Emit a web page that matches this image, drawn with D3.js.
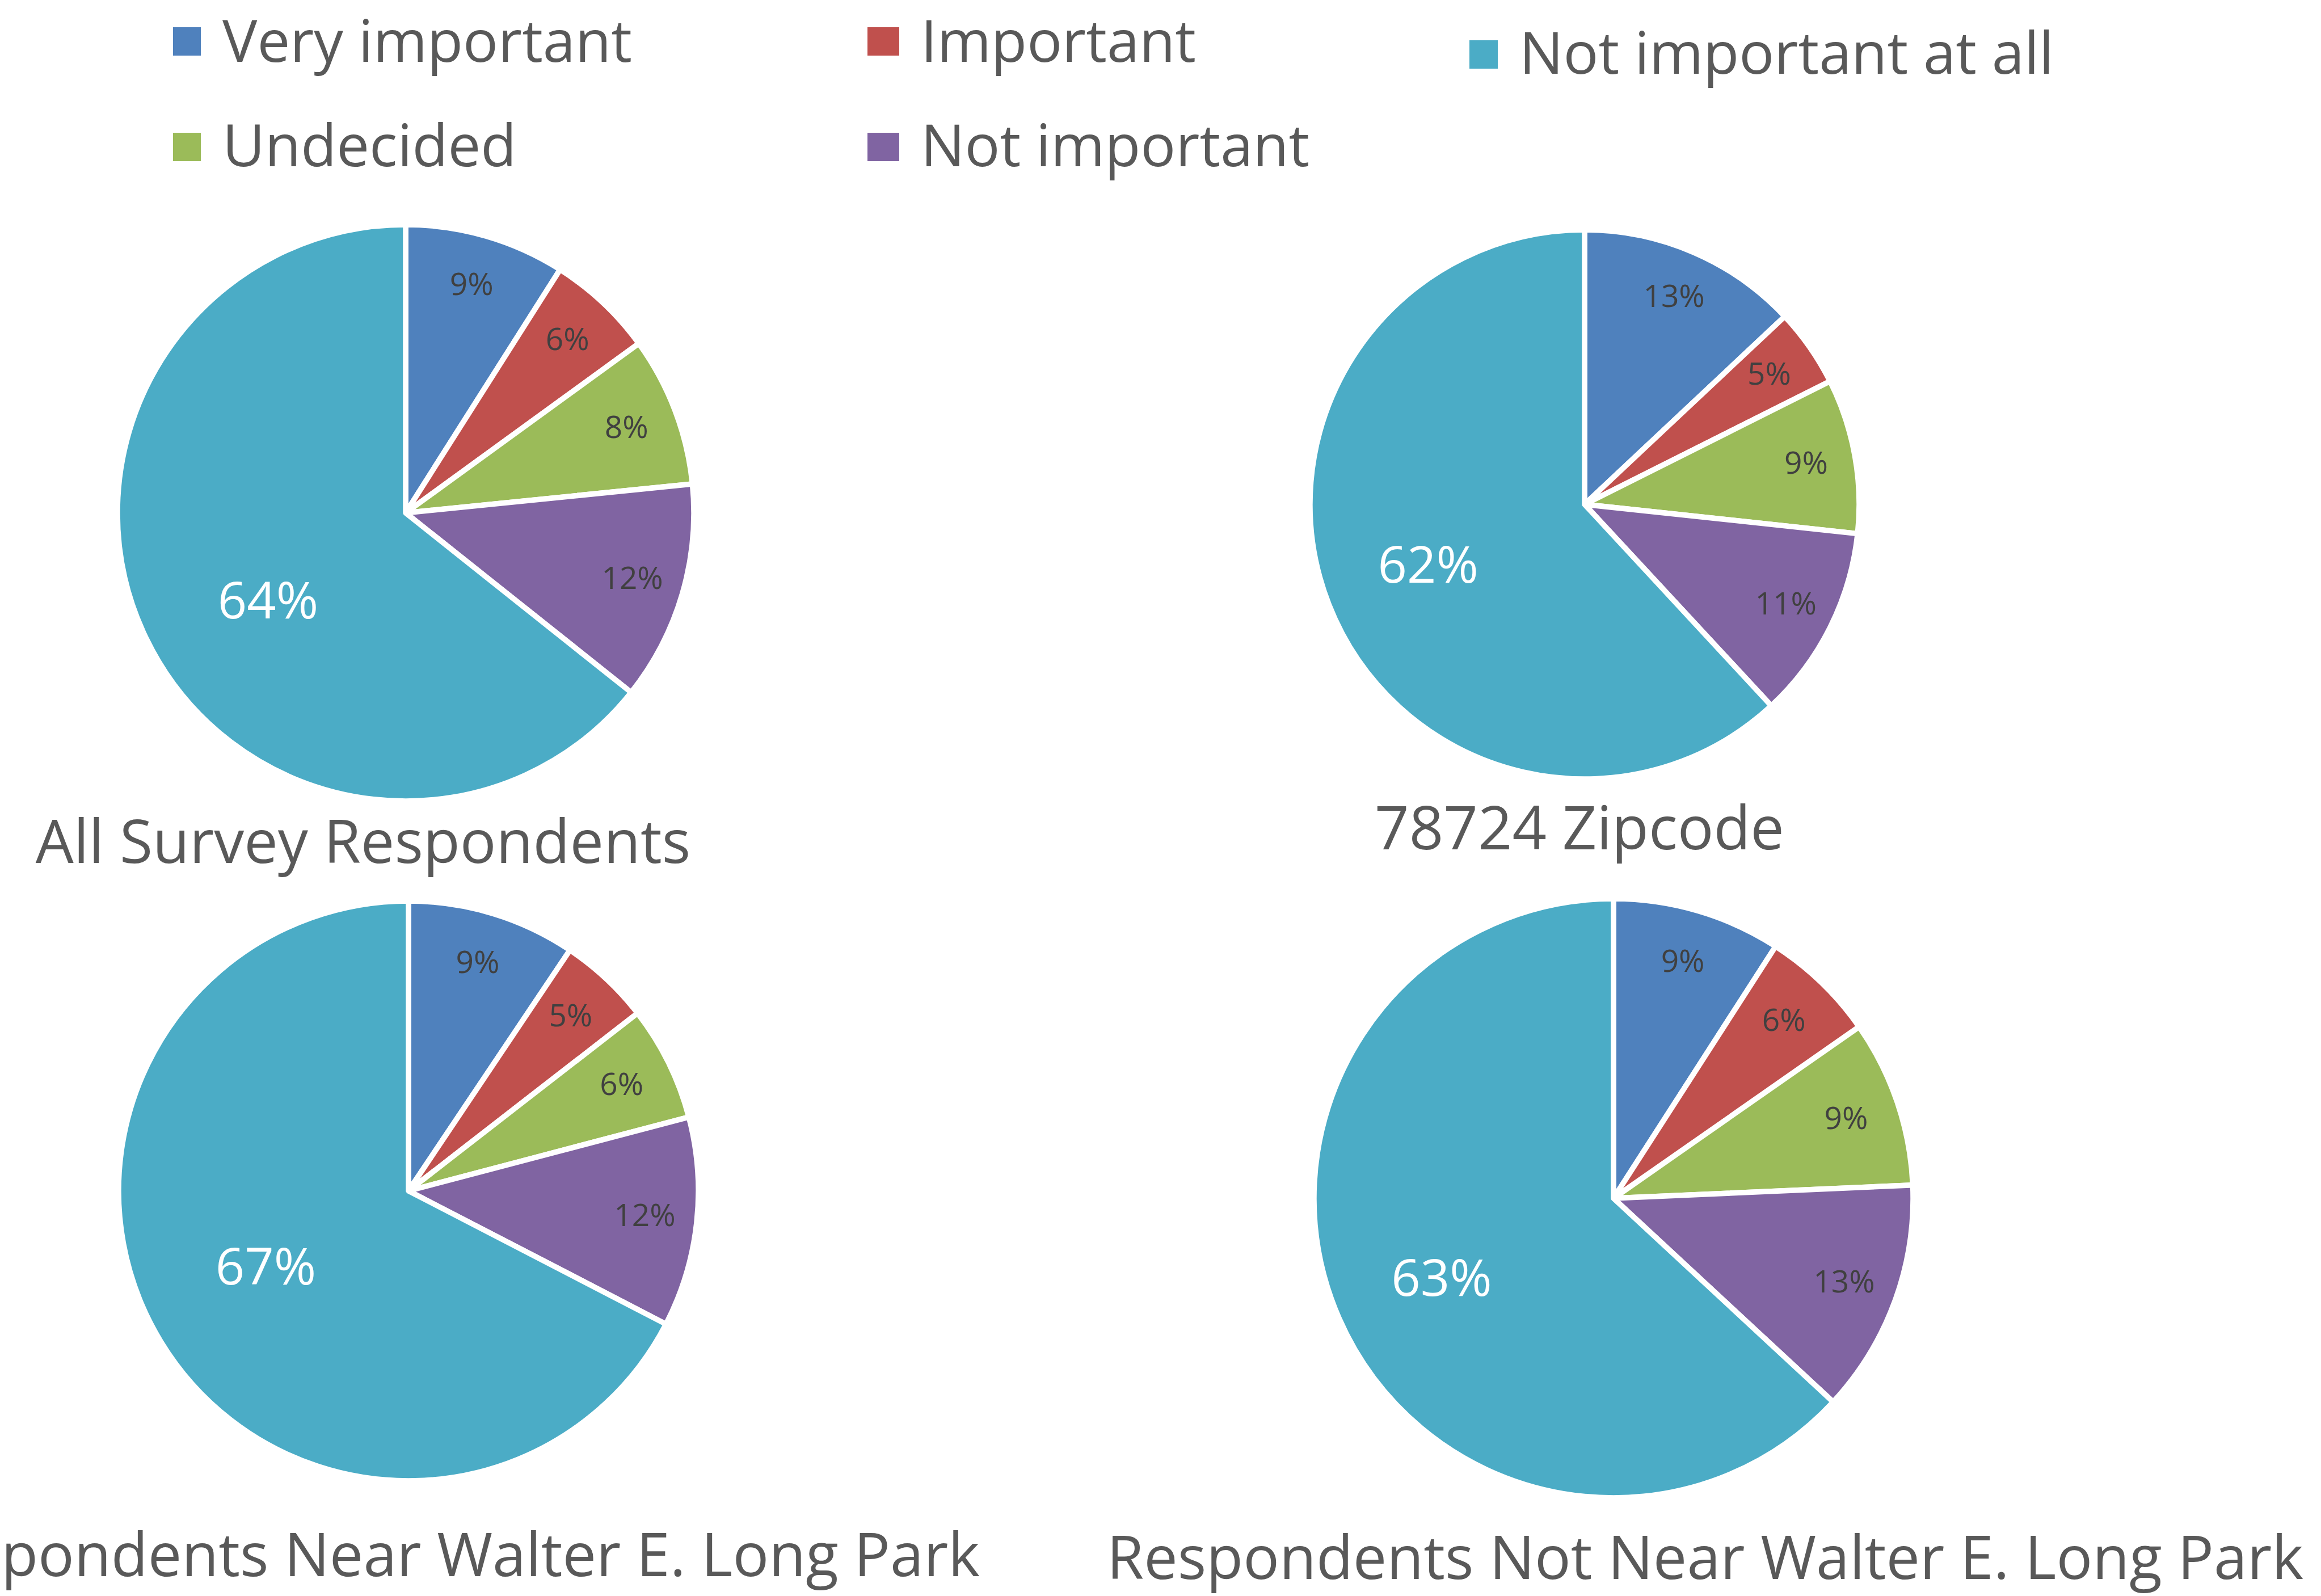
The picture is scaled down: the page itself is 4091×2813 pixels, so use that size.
<!DOCTYPE html>
<html>
<head>
<meta charset="utf-8">
<script src="https://cdn.jsdelivr.net/npm/d3@7"></script>
<style>
  html, body { margin: 0; padding: 0; background: #ffffff; }
  svg { display: block; }
  text { font-family: "Open Sans", "Noto Sans", sans-serif; }
</style>
</head>
<body>
<div id="chart"></div>
<script>
// ---------------- DATA ----------------
const categories = ["Very important", "Important", "Undecided", "Not important", "Not important at all"];
const chartTitles = [
  "All Survey Respondents",
  "78724 Zipcode",
  "Respondents Near Walter E. Long Park",
  "Respondents Not Near Walter E. Long Park"
];
const allRespondents = [9.0, 6.0, 8.4, 12.3, 64.3];
const zip78724       = [13.0, 4.6, 9.1, 11.4, 61.9];
const nearPark       = [9.4, 5.1, 6.4, 11.7, 67.4];
const notNearPark    = [9.1, 6.2, 9.0, 12.6, 63.1];
const seriesList = [allRespondents, zip78724, nearPark, notNearPark];

// ---------------- STYLE / LAYOUT ----------------
const W = 4091, H = 2813;
const colors = ["#4F81BD", "#C0504D", "#9BBB59", "#8064A2", "#4BACC6"];
const textColor = "#595959";
const labelColor = "#404040";

const chartLayout = [
  { cx: 715,  cy: 904,  r: 508, tx: 640,  ty: 1521, anchor: "middle", bigFrac: 0.565, bigRot: -6.6 },
  { cx: 2793, cy: 889,  r: 484, tx: 2784, ty: 1497, anchor: "middle", bigFrac: 0.61,  bigRot: 0.5 },
  { cx: 720,  cy: 2099, r: 511, tx: 1727, ty: 2778, anchor: "end",    bigFrac: 0.556, bigRot: 3.6 },
  { cx: 2844, cy: 2112, r: 528, tx: 4060, ty: 2783, anchor: "end",    bigFrac: 0.632, bigRot: -1.2 }
];
const smallFrac = 0.82;

const legendLayout = [
  { x: 305,  y: 48,  w: 49, tb: 109 },
  { x: 1529, y: 48,  w: 56, tb: 109 },
  { x: 305,  y: 234, w: 49, tb: 293 },
  { x: 1529, y: 234, w: 56, tb: 293 },
  { x: 2590, y: 71,  w: 50, tb: 130 }
];

// ---------------- DRAW ----------------
const svg = d3.select("#chart").append("svg")
  .attr("width", W).attr("height", H)
  .attr("viewBox", `0 0 ${W} ${H}`);

svg.append("rect").attr("width", W).attr("height", H).attr("fill", "#ffffff");

const color = d3.scaleOrdinal().domain(categories).range(colors);

const pie = d3.pie().sort(null).value(d => d.value).startAngle(0).endAngle(2 * Math.PI);

seriesList.forEach((series, ci) => {
  const L = chartLayout[ci];
  const data = series.map((v, i) => ({ cat: categories[i], value: v }));
  const arcs = pie(data);
  const g = svg.append("g").attr("transform", `translate(${L.cx},${L.cy})`);

  const arc = d3.arc().innerRadius(0).outerRadius(L.r);
  g.selectAll("path.slice").data(arcs).join("path")
    .attr("class", "slice")
    .attr("d", arc)
    .attr("fill", d => color(d.data.cat))
    .attr("stroke", "#ffffff")
    .attr("stroke-width", 9.5)
    .attr("stroke-linejoin", "round");

  const maxVal = d3.max(series);
  g.selectAll("text.lbl").data(arcs).join("text")
    .attr("class", "lbl")
    .attr("transform", d => {
      const big = d.data.value === maxVal;
      const rr = L.r * (big ? L.bigFrac : smallFrac);
      const rot = big ? L.bigRot * Math.PI / 180 : 0;
      const la = d3.arc().innerRadius(rr).outerRadius(rr);
      const [x, y] = la.centroid({ startAngle: d.startAngle + rot, endAngle: d.endAngle + rot });
      return `translate(${x},${y})`;
    })
    .attr("text-anchor", "middle")
    .attr("dy", d => d.data.value === maxVal ? "0.36em" : "0.3em")
    .attr("font-size", d => d.data.value === maxVal ? 90 : 55)
    .attr("fill", d => d.data.value === maxVal ? "#ffffff" : labelColor)
    .text(d => Math.round(d.data.value) + "%");

  svg.append("text")
    .attr("x", L.tx).attr("y", L.ty)
    .attr("text-anchor", L.anchor)
    .attr("font-size", 106)
    .attr("fill", textColor)
    .text(chartTitles[ci]);
});

// Legend
const leg = svg.append("g");
categories.forEach((c, i) => {
  const p = legendLayout[i];
  leg.append("rect")
    .attr("x", p.x).attr("y", p.y)
    .attr("width", p.w).attr("height", 50)
    .attr("fill", color(c));
  leg.append("text")
    .attr("x", p.x + p.w + 38).attr("y", p.tb)
    .attr("font-size", 103)
    .attr("fill", textColor)
    .text(c);
});
</script>
</body>
</html>
